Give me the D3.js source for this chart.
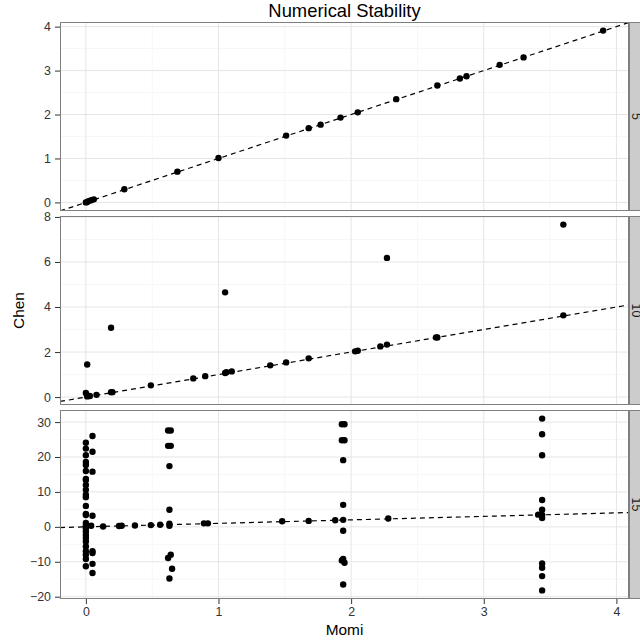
<!DOCTYPE html>
<html>
<head>
<meta charset="utf-8">
<script src="https://cdnjs.cloudflare.com/ajax/libs/d3/7.8.5/d3.min.js"></script>
<style>
  body { margin: 0; background: #fff; }
  text { font-family: "Liberation Sans", Arial, sans-serif; }
</style>
</head>
<body>
<div id="chart"></div>
<script>
// facet labels
var facets = ["5", "10", "15"];

// facet 5
var momi5 = [0, 0.01, 0.02, 0.04, 0.06, 0.29, 0.69, 1.0, 1.51, 1.68, 1.77, 1.92, 2.05, 2.34, 2.65, 2.82, 2.87, 3.12, 3.30, 3.90];
var chen5 = [0, 0.01, 0.03, 0.05, 0.07, 0.30, 0.70, 1.01, 1.52, 1.69, 1.77, 1.93, 2.05, 2.35, 2.66, 2.82, 2.87, 3.13, 3.30, 3.91];

// facet 10
var momi10 = [0.01, 0, 0.01, 0.03, 0.08, 0.19, 0.19, 0.20, 0.49, 0.81, 0.90, 1.05, 1.05, 1.06, 1.10, 1.39, 1.51, 1.68, 2.03, 2.05, 2.22, 2.27, 2.27, 2.64, 2.65, 3.60, 3.60];
var chen10 = [1.45, 0.18, 0.03, 0.05, 0.10, 3.08, 0.22, 0.22, 0.52, 0.83, 0.93, 4.65, 1.07, 1.10, 1.14, 1.41, 1.54, 1.72, 2.03, 2.06, 2.25, 2.33, 6.18, 2.65, 2.65, 7.66, 3.63];

// facet 15
var momi15 = [
  0, 0, 0, 0, 0, 0, 0, 0, 0, 0, 0, 0, 0, 0, 0, 0, 0, 0, 0, 0, 0, 0, 0, 0, 0, 0, 0,
  0.05, 0.05, 0.05, 0.05, 0.04, 0.05, 0.05, 0.05, 0.05,
  0.13, 0.25, 0.27, 0.37, 0.49, 0.56,
  0.62, 0.64, 0.62, 0.64, 0.63, 0.63, 0.63, 0.63, 0.64, 0.62, 0.65, 0.63,
  0.89, 0.92,
  1.48, 1.68, 1.88,
  1.93, 1.95, 1.93, 1.95, 1.94, 1.94, 1.94, 1.94, 1.94, 1.93, 1.95, 1.94,
  2.28,
  3.44, 3.44, 3.44, 3.44, 3.44, 3.44, 3.44, 3.44, 3.44, 3.44, 3.44, 3.41
];
var chen15 = [
  24.1, 22.4, 20.5, 18.6, 17.7, 16.0, 13.7, 13.4, 12.0, 10.6, 9.2, 8.5, 6.0, 3.7, 3.4, 1.1, 0.3, -0.4, -1.3, -2.3, -3.2, -4.2, -5.6, -7.0, -8.0, -9.2, -11.3,
  26.0, 21.5, 15.8, 3.2, 0.3, -7.0, -7.5, -10.6, -13.2,
  0.1, 0.25, 0.3, 0.4, 0.5, 0.6,
  27.6, 27.6, 23.2, 23.2, 17.4, 4.9, 0.9, 0.3, -8.0, -8.9, -12.0, -14.8,
  1.0, 1.0,
  1.6, 1.7, 1.9,
  29.4, 29.4, 24.8, 24.8, 19.1, 6.3, 2.0, -1.1, -9.2, -9.6, -10.3, -16.5,
  2.4,
  31.0, 26.5, 20.5, 7.7, 4.9, 3.4, 2.5, -10.5, -11.7, -14.1, -18.2, 3.5
];

var xTicks = [0, 1, 2, 3, 4];
var yTicks = [[0, 1, 2, 3, 4], [0, 2, 4, 6, 8], [-20, -10, 0, 10, 20, 30]];

var panelData = [[momi5, chen5], [momi10, chen10], [momi15, chen15]];

var width = 640, height = 641;
var left = 60, right = 629;
var panelTop = [22, 216, 410], panelH = 189;

var svg = d3.select("#chart").append("svg")
    .attr("width", width)
    .attr("height", height);

function expand(ext) {
    var pad = (ext[1] - ext[0]) * 0.05;
    return [ext[0] - pad, ext[1] + pad];
}

var allX = momi5.concat(momi10, momi15);
var x = d3.scaleLinear().domain(expand(d3.extent(allX))).range([left, right]);

function midpoints(t) {
    var out = [];
    for (var i = 0; i < t.length - 1; i++) out.push((t[i] + t[i + 1]) / 2);
    return out;
}

panelData.forEach(function (pd, k) {
    var top = panelTop[k], bottom = top + panelH;
    var y = d3.scaleLinear().domain(expand(d3.extent(pd[1]))).range([bottom, top]);
    var g = svg.append("g");

    g.append("rect")
        .attr("x", left).attr("y", top)
        .attr("width", right - left).attr("height", panelH)
        .attr("fill", "#fff");

    g.append("clipPath").attr("id", "clip" + k)
        .append("rect")
        .attr("x", left).attr("y", top)
        .attr("width", right - left).attr("height", panelH);

    // minor grid
    g.selectAll(".minx").data(midpoints(xTicks)).enter().append("line")
        .attr("x1", function (d) { return x(d); }).attr("x2", function (d) { return x(d); })
        .attr("y1", top).attr("y2", bottom)
        .attr("stroke", "#f7f7f7").attr("stroke-width", 1);
    g.selectAll(".miny").data(midpoints(yTicks[k])).enter().append("line")
        .attr("y1", function (d) { return y(d); }).attr("y2", function (d) { return y(d); })
        .attr("x1", left).attr("x2", right)
        .attr("stroke", "#f7f7f7").attr("stroke-width", 1);

    // major grid
    g.selectAll(".majx").data(xTicks).enter().append("line")
        .attr("x1", function (d) { return x(d); }).attr("x2", function (d) { return x(d); })
        .attr("y1", top).attr("y2", bottom)
        .attr("stroke", "#e5e5e5").attr("stroke-width", 1);
    g.selectAll(".majy").data(yTicks[k]).enter().append("line")
        .attr("y1", function (d) { return y(d); }).attr("y2", function (d) { return y(d); })
        .attr("x1", left).attr("x2", right)
        .attr("stroke", "#e5e5e5").attr("stroke-width", 1);

    // y = x reference
    var xd = x.domain();
    g.append("line")
        .attr("clip-path", "url(#clip" + k + ")")
        .attr("x1", x(xd[0])).attr("y1", y(xd[0]))
        .attr("x2", x(xd[1])).attr("y2", y(xd[1]))
        .attr("stroke", "#000").attr("stroke-width", 1.2)
        .attr("stroke-dasharray", "5,4");

    g.append("g").attr("clip-path", "url(#clip" + k + ")")
        .selectAll("circle")
        .data(d3.range(pd[0].length))
        .enter().append("circle")
        .attr("cx", function (i) { return x(pd[0][i]); })
        .attr("cy", function (i) { return y(pd[1][i]); })
        .attr("r", 3.2)
        .attr("fill", "#000");

    g.append("rect")
        .attr("x", left + 0.5).attr("y", top + 0.5)
        .attr("width", right - left - 1).attr("height", panelH - 1)
        .attr("fill", "none").attr("stroke", "#7f7f7f").attr("stroke-width", 1);

    // strip
    g.append("rect")
        .attr("x", right + 0.5).attr("y", top + 0.5)
        .attr("width", 22).attr("height", panelH - 1)
        .attr("fill", "#cccccc").attr("stroke", "#7f7f7f").attr("stroke-width", 1);
    g.append("text")
        .attr("transform", "translate(" + (right + 3) + "," + (top + panelH / 2) + ") rotate(90)")
        .attr("text-anchor", "middle")
        .attr("font-size", "12.4px")
        .attr("fill", "#1a1a1a")
        .text(facets[k]);

    // y axis
    var yAxis = d3.axisLeft(y).tickValues(yTicks[k]).tickSize(5).tickPadding(4)
        .tickFormat(function (d) { return d < 0 ? "\u2212" + Math.abs(d) : d; });
    var ya = g.append("g").attr("transform", "translate(" + left + ",0)").call(yAxis);
    ya.select(".domain").remove();
    ya.selectAll(".tick line").attr("stroke", "#333");
    ya.selectAll(".tick text").attr("font-size", "12.4px").attr("fill", "#333")
        .attr("font-family", "Liberation Sans, Arial, sans-serif");

    if (k === 2) {
        var xAxis = d3.axisBottom(x).tickValues(xTicks).tickSize(5).tickPadding(3)
            .tickFormat(d3.format("d"));
        var xa = g.append("g").attr("transform", "translate(0," + bottom + ")").call(xAxis);
        xa.select(".domain").remove();
        xa.selectAll(".tick line").attr("stroke", "#333");
        xa.selectAll(".tick text").attr("font-size", "12.4px").attr("fill", "#333")
            .attr("font-family", "Liberation Sans, Arial, sans-serif");
    }
});

svg.append("text")
    .attr("x", (left + right) / 2).attr("y", 17)
    .attr("text-anchor", "middle")
    .attr("font-size", "18.4px")
    .text("Numerical Stability");

svg.append("text")
    .attr("x", (left + right) / 2).attr("y", 635)
    .attr("text-anchor", "middle")
    .attr("font-size", "15.4px")
    .text("Momi");

svg.append("text")
    .attr("transform", "translate(24," + (panelTop[0] + panelTop[2] + panelH) / 2 + ") rotate(-90)")
    .attr("text-anchor", "middle")
    .attr("font-size", "15.4px")
    .text("Chen");
</script>
</body>
</html>
